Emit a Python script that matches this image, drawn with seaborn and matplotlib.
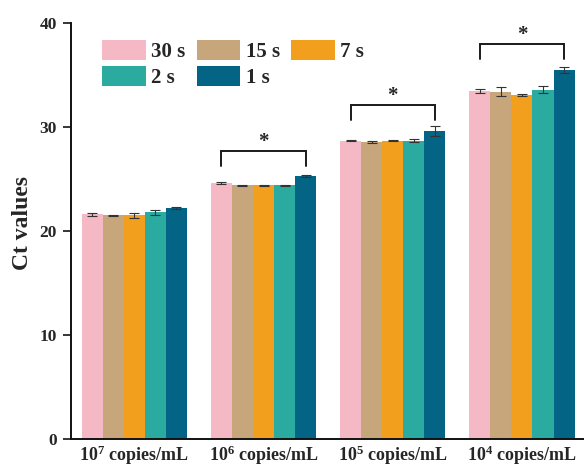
import pandas as pd
import seaborn as sns
import matplotlib
matplotlib.use("Agg")
import matplotlib.pyplot as plt

# Data
concentrations = ["10$^{7}$ copies/mL", "10$^{6}$ copies/mL",
                  "10$^{5}$ copies/mL", "10$^{4}$ copies/mL"]
times = ["30 s", "15 s", "7 s", "2 s", "1 s"]

ct_30s = [21.6, 24.6, 28.7, 33.5]
ct_15s = [21.5, 24.4, 28.6, 33.4]
ct_7s = [21.5, 24.4, 28.7, 33.1]
ct_2s = [21.8, 24.4, 28.7, 33.6]
ct_1s = [22.2, 25.3, 29.6, 35.5]

sd_30s = [0.15, 0.08, 0.05, 0.2]
sd_15s = [0.08, 0.05, 0.1, 0.45]
sd_7s = [0.25, 0.05, 0.05, 0.1]
sd_2s = [0.25, 0.05, 0.15, 0.3]
sd_1s = [0.1, 0.1, 0.45, 0.3]

colors = ["#F5B9C6", "#C8A67B", "#F29F1D", "#2BAAA0", "#046485"]

# significance brackets: (group index, top y, drop y)
brackets = [(1, 27.7, 26.25), (2, 32.1, 30.7), (3, 37.95, 36.5)]

values = [ct_30s, ct_15s, ct_7s, ct_2s, ct_1s]
errors = [sd_30s, sd_15s, sd_7s, sd_2s, sd_1s]

rows = []
for t, vals, errs in zip(times, values, errors):
    for c, v, e in zip(concentrations, vals, errs):
        rows.append({"conc": c, "time": t, "ct": v, "sd": e})
df = pd.DataFrame(rows)

sns.set_style("ticks")
plt.rcParams["font.family"] = ["Liberation Serif", "DejaVu Serif"]
plt.rcParams["font.weight"] = "bold"
plt.rcParams["mathtext.fontset"] = "custom"
plt.rcParams["mathtext.rm"] = "Liberation Serif:bold"
plt.rcParams["mathtext.it"] = "Liberation Serif:bold"
plt.rcParams["mathtext.bf"] = "Liberation Serif:bold"
plt.rcParams["mathtext.default"] = "rm"

fig = plt.figure(figsize=(5.84, 4.68), dpi=100)
ax = fig.add_axes([71 / 584, 29 / 468, 1 - 71 / 584, (439 - 23) / 468])

sns.barplot(data=df, x="conc", y="ct", hue="time", hue_order=times,
            palette=colors, errorbar=None, width=0.814, ax=ax,
            saturation=1, edgecolor="none")

bar_groups = [list(c.patches) for c in ax.containers]

# error bars on each bar
for patches, errs in zip(bar_groups, errors):
    xs = [p.get_x() + p.get_width() / 2 for p in patches]
    hs = [p.get_height() for p in patches]
    ax.errorbar(xs, hs, yerr=errs, fmt="none", ecolor="#333333",
                elinewidth=0.8, capsize=3.5, capthick=0.8, zorder=3)

# significance brackets between 30 s and 1 s bars
first = bar_groups[0]
last = bar_groups[-1]
for g, top, drop in brackets:
    x0 = first[g].get_x() + first[g].get_width() / 2
    x1 = last[g].get_x() + last[g].get_width() / 2
    ax.plot([x0, x0, x1, x1], [drop, top, top, drop], color="#1a1a1a",
            lw=1.4, solid_joinstyle="miter", zorder=4)
    ax.text((x0 + x1) / 2, top - 0.1, "*", ha="center", va="bottom",
            fontsize=15, fontweight="bold")

ax.set_ylim(0, 40)
ax.set_xlim(-0.49, 3.48)
ax.set_yticks([0, 10, 20, 30, 40])
ax.set_xlabel("")
ax.set_ylabel("Ct values", fontsize=17, fontweight="bold")
ax.yaxis.set_label_coords(-0.074, 0.52)
ax.tick_params(axis="y", labelsize=12.5, length=5.8, width=1.3, pad=4.5)
ax.tick_params(axis="x", labelsize=13, length=0, pad=3)
for lab in ax.get_xticklabels() + ax.get_yticklabels():
    lab.set_fontweight("bold")
sns.despine(ax=ax)
for s in ["left", "bottom"]:
    ax.spines[s].set_linewidth(1.4)
    ax.spines[s].set_color("#111111")

# legend laid out row-wise: 30 s, 15 s, 7 s / 2 s, 1 s
handles, labels = ax.get_legend_handles_labels()
order = [0, 3, 1, 4, 2]
ax.legend([handles[i] for i in order], [labels[i] for i in order],
          ncol=3, frameon=False, loc="upper left",
          bbox_to_anchor=(102 / 584, 1 - 40 / 468),
          bbox_transform=fig.transFigure, borderpad=0, borderaxespad=0,
          handlelength=2.1, handleheight=1.1, handletextpad=0.25,
          columnspacing=0.55, labelspacing=0.2,
          prop={"size": 15, "weight": "bold"})

fig.savefig("out.png", dpi=100)
